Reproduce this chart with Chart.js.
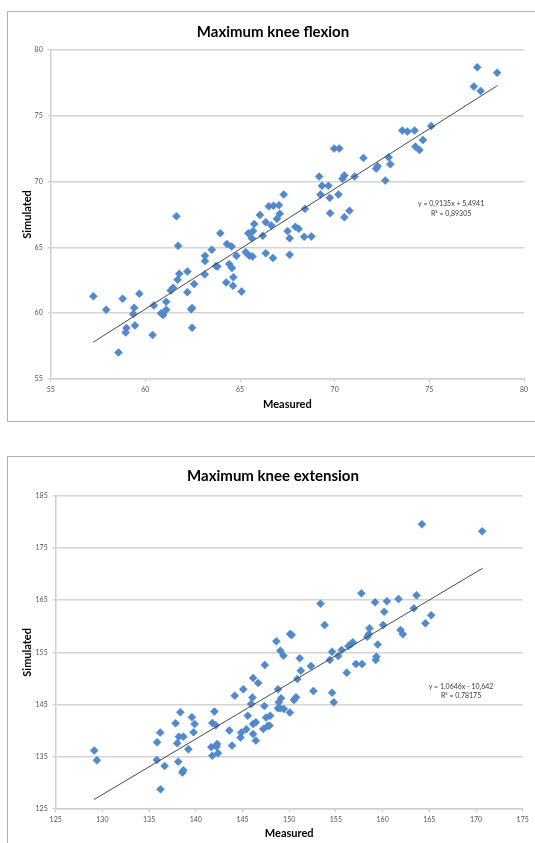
<!DOCTYPE html>
<html>
<head>
<meta charset="utf-8">
<script src="https://cdn.jsdelivr.net/npm/chart.js@4/dist/chart.umd.min.js"></script>
<style>
  html, body { margin: 0; padding: 0; background: #ffffff; overflow: hidden; width: 535px; height: 843px; }
  .frame { position: absolute; left: 7px; border: 1px solid #b3b3b3; background: #fff; }
  #f1 { top: 11px; width: 540px; height: 409px; }
  #f2 { top: 456px; width: 540px; height: 400px; }
  canvas { display: block; }
</style>
</head>
<body>
<div class="frame" id="f1"><canvas id="c1" width="530" height="409"></canvas></div>
<div class="frame" id="f2"><canvas id="c2" width="530" height="395"></canvas></div>
<script>
// ---------- Data: Maximum knee flexion ----------
const flexionMeasured = [57.25,57.93,58.58,58.8,59.0,58.96,59.36,59.41,59.45,59.68,60.45,60.38,60.83,60.94,61.1,61.1,61.34,61.46,61.64,61.73,61.7,61.79,62.22,62.22,62.42,62.47,62.47,62.58,63.14,63.15,63.15,63.51,63.73,63.8,63.96,64.27,64.31,64.43,64.56,64.57,64.63,64.65,64.81,65.08,65.3,65.44,65.49,65.62,65.66,65.69,65.75,66.05,66.2,66.36,66.36,66.52,66.65,66.74,66.77,66.95,67.06,67.1,67.31,67.51,67.62,67.62,67.92,68.1,68.39,68.43,68.77,69.18,69.25,69.33,69.67,69.74,69.76,69.97,70.24,70.2,70.41,70.51,70.51,70.78,71.05,71.52,72.19,72.27,72.67,72.85,72.94,73.57,73.84,74.22,74.26,74.48,74.66,75.1,77.35,77.53,77.71,78.58];
const flexionSimulated = [61.28,60.26,57.02,61.1,58.87,58.54,59.93,60.41,59.07,61.48,60.59,58.34,60.0,59.86,60.87,60.26,61.73,61.93,67.37,65.12,62.54,63.0,61.6,63.17,60.3,60.4,58.9,62.21,62.95,63.96,64.36,64.82,63.58,63.55,66.08,62.34,65.25,63.73,65.07,63.43,62.08,62.74,64.36,61.65,64.64,66.08,64.36,65.7,64.31,66.24,66.77,67.47,65.88,64.56,66.92,68.13,66.67,64.19,68.16,67.17,68.21,67.55,69.02,66.24,65.7,64.44,66.56,66.41,65.8,67.93,65.83,70.38,69.02,69.68,69.68,68.77,67.6,72.51,72.51,69.02,70.21,70.46,67.3,67.78,70.38,71.8,70.99,71.17,70.08,71.85,71.32,73.88,73.8,73.88,72.66,72.41,73.17,74.23,77.22,78.68,76.89,78.28];
const flexionTrendX = [57.25, 78.6];
const flexionTrendY = [57.8, 77.3];
const flexionEquation = ["y = 0,9135x + 5,4941", "R² = 0,89305"];
const flexionXTicks = [55, 80, 5];
const flexionYTicks = [55, 80, 5];

// ---------- Data: Maximum knee extension ----------
const extensionMeasured = [129.12,129.41,135.86,135.82,136.19,136.22,136.66,137.83,138.01,138.12,138.19,138.34,138.56,138.67,138.67,139.21,139.58,139.76,139.87,141.66,141.77,141.77,141.99,142.14,142.2,142.28,142.38,143.59,143.88,144.17,144.79,144.86,145.08,145.41,145.56,145.92,146.06,146.14,146.14,146.14,146.43,146.43,146.68,147.23,147.34,147.38,147.52,147.7,147.89,147.96,148.62,148.8,148.8,148.88,149.05,149.05,149.13,149.38,149.42,150.07,150.11,150.26,150.51,150.73,150.87,151.13,151.24,152.33,152.59,153.35,153.79,154.34,154.59,154.59,154.77,155.25,155.61,156.16,156.34,156.63,156.81,157.14,157.73,157.8,158.35,158.53,158.6,159.19,159.26,159.33,159.48,160.06,160.17,160.46,161.7,161.92,162.17,163.34,163.63,164.21,164.58,165.2,170.66];
const extensionSimulated = [136.18,134.33,137.78,134.4,139.63,128.78,133.25,141.41,137.6,134.07,138.86,143.52,131.97,132.42,138.86,136.44,142.56,139.69,141.29,136.85,135.22,141.48,143.65,141.03,136.95,137.45,135.67,140.01,137.14,146.71,138.67,139.63,147.92,140.27,142.88,145.12,146.33,150.09,141.29,139.37,141.61,138.1,149.13,140.34,144.73,152.58,142.5,140.9,140.97,142.88,157.11,147.92,144.28,145.43,155.33,144.28,146.2,154.37,144.16,143.46,158.52,158.33,145.88,146.39,149.9,153.86,151.5,152.39,147.6,164.32,160.24,153.54,155.13,147.28,145.43,154.3,155.45,151.11,156.22,156.6,156.92,152.77,166.3,152.77,158.0,158.52,159.6,164.58,153.54,154.18,156.48,160.24,162.79,164.77,165.22,159.29,158.46,163.43,165.92,179.51,160.56,162.09,178.17];
const extensionTrendX = [129.1, 170.7];
const extensionTrendY = [126.8, 171.1];
const extensionEquation = ["y = 1,0646x - 10,642", "R² = 0,78175"];
const extensionXTicks = [125, 175, 5];
const extensionYTicks = [125, 185, 10];

const FONT = "Lato, 'Open Sans', sans-serif";

const equationPlugin = {
  id: 'equation',
  afterDatasetsDraw(chart, args, opts) {
    const {ctx, scales} = chart;
    const px = scales.x.getPixelForValue(opts.x);
    const py = scales.y.getPixelForValue(opts.y);
    ctx.save();
    ctx.font = "7px " + FONT;
    ctx.fillStyle = '#3a3a3a';
    ctx.textAlign = 'center';
    ctx.textBaseline = 'middle';
    opts.lines.forEach((t, i) => ctx.fillText(t, px, py + i * 9.5));
    ctx.restore();
  }
};

function makeChart(id, cfg) {
  const pts = cfg.mx.map((v, i) => ({x: v, y: cfg.sy[i]}));
  const trend = cfg.tx.map((v, i) => ({x: v, y: cfg.ty[i]}));
  return new Chart(document.getElementById(id), {
    type: 'scatter',
    data: {
      datasets: [
        { data: trend, showLine: true, borderColor: '#4a4a4a', borderWidth: 1, pointRadius: 0, pointHoverRadius: 0, order: 0 },
        { data: pts, pointStyle: 'rectRot', pointRadius: 4, pointHoverRadius: 4,
          backgroundColor: '#5089cc', borderColor: '#4a80c2', borderWidth: 0.5, order: 1 }
      ]
    },
    plugins: [equationPlugin],
    options: {
      responsive: false,
      animation: false,
      devicePixelRatio: 1,
      layout: { padding: 0 },
      plugins: {
        legend: { display: false },
        tooltip: { enabled: false },
        title: {
          display: true, text: cfg.title, color: '#000',
          font: { family: FONT, size: 15, weight: 'bold', lineHeight: 1.2 },
          padding: { top: cfg.titleTop, bottom: cfg.titleBottom }
        },
        equation: { x: cfg.eqX, y: cfg.eqY, lines: cfg.eq }
      },
      scales: {
        x: {
          type: 'linear', min: cfg.xt[0], max: cfg.xt[1],
          ticks: { stepSize: cfg.xt[2], color: '#555', font: { family: FONT, size: 7 }, padding: 4 },
          grid: { display: true, drawOnChartArea: false, drawTicks: true, tickLength: 3, color: '#c8c8c8' },
          border: { display: true, color: '#cfcfcf', width: 1.5 },
          title: { display: true, text: 'Measured', color: '#000',
                   font: { family: FONT, size: 11, weight: 'bold', lineHeight: 1.2 },
                   padding: { top: 0, bottom: cfg.xTitleBottom } },
          afterFit(s) { s.height = cfg.xAxisH; s.paddingRight = cfg.padRight; }
        },
        y: {
          type: 'linear', min: cfg.yt[0], max: cfg.yt[1],
          ticks: { stepSize: cfg.yt[2], color: '#555', font: { family: FONT, size: 7 }, padding: 5 },
          grid: { display: true, drawOnChartArea: true, drawTicks: true, tickLength: 3, color: '#d4d4d4', lineWidth: 1.5 },
          border: { display: true, color: '#cfcfcf', width: 1.5 },
          title: { display: true, text: 'Simulated', color: '#000',
                   font: { family: FONT, size: 11, weight: 'bold', lineHeight: 1.2 },
                   padding: { top: 12.4, bottom: 0 } },
          afterFit(s) { s.width = cfg.yAxisW; }
        }
      }
    }
  });
}

makeChart('c1', {
  title: 'Maximum knee flexion',
  mx: flexionMeasured, sy: flexionSimulated, tx: flexionTrendX, ty: flexionTrendY,
  xt: flexionXTicks, yt: flexionYTicks, eq: flexionEquation, eqX: 76.15, eqY: 68.3,
  titleTop: 10.7, titleBottom: 9.3, xAxisH: 42, xTitleBottom: 10.4, yAxisW: 42.7, padRight: 14
});

makeChart('c2', {
  title: 'Maximum knee extension',
  mx: extensionMeasured, sy: extensionSimulated, tx: extensionTrendX, ty: extensionTrendY,
  xt: extensionXTicks, yt: extensionYTicks, eq: extensionEquation, eqX: 168.4, eqY: 148.5,
  titleTop: 9.7, titleBottom: 11.0, xAxisH: 43, xTitleBottom: 12.4, yAxisW: 47.7, padRight: 15.3
});
</script>
</body>
</html>
